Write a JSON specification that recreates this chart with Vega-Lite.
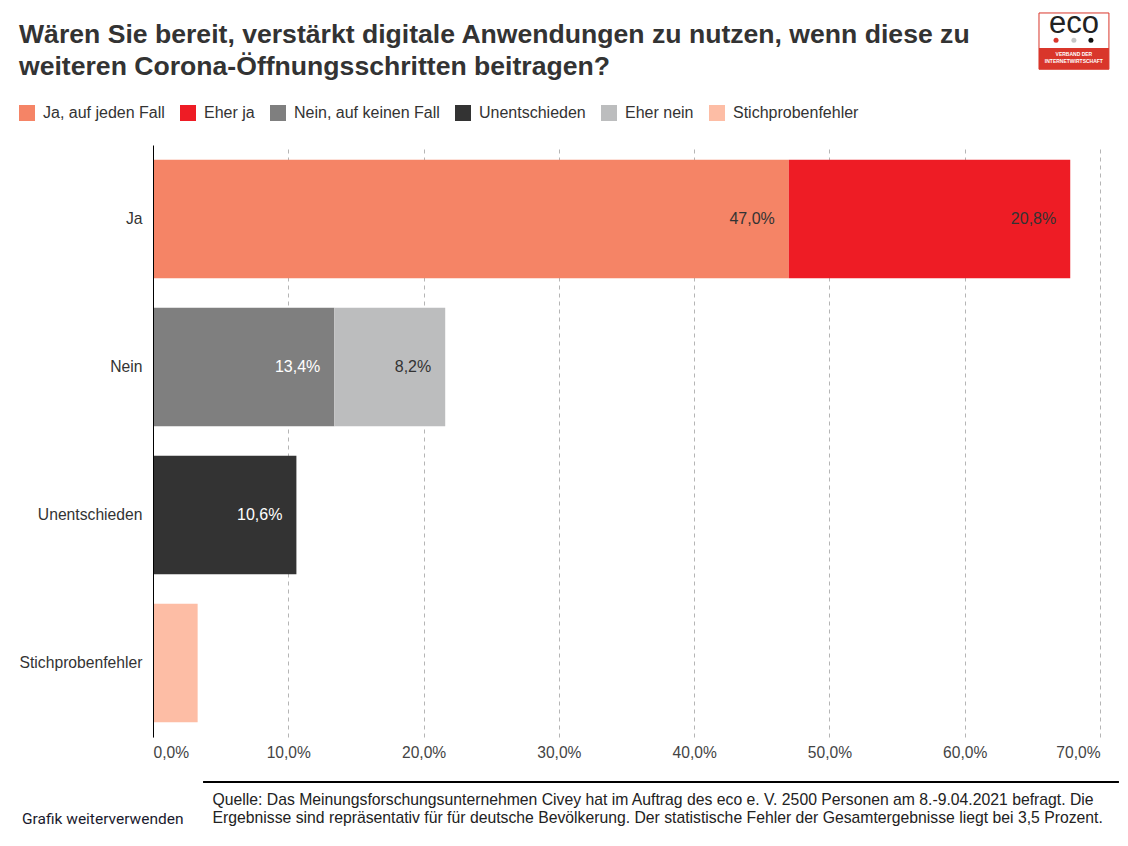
{
  "$schema": "https://vega.github.io/schema/vega-lite/v6.json",
  "autosize": {"type": "none"},
  "padding": {"left": 153, "top": 145, "right": 28, "bottom": 109},
  "width": 947,
  "height": 592,
  "background": "white",
  "view": {"stroke": null},
  "title": {
    "text": ["Wären Sie bereit, verstärkt digitale Anwendungen zu nutzen, wenn diese zu", "weiteren Corona-Öffnungsschritten beitragen?"],
    "anchor": "start",
    "frame": "group",
    "dx": -134,
    "dy": 72,
    "offset": 0,
    "font": "Liberation Sans",
    "fontSize": 26.6,
    "fontWeight": "bold",
    "lineHeight": 32,
    "color": "#333333"
  },
  "data": {
    "values": [
      {"Gruppe": "Ja", "Antwort": "Ja, auf jeden Fall", "Rang": 1, "Wert": 47.0, "Label": "47,0%"},
      {"Gruppe": "Ja", "Antwort": "Eher ja", "Rang": 2, "Wert": 20.8, "Label": "20,8%"},
      {"Gruppe": "Nein", "Antwort": "Nein, auf keinen Fall", "Rang": 1, "Wert": 13.4, "Label": "13,4%"},
      {"Gruppe": "Nein", "Antwort": "Eher nein", "Rang": 2, "Wert": 8.2, "Label": "8,2%"},
      {"Gruppe": "Unentschieden", "Antwort": "Unentschieden", "Rang": 1, "Wert": 10.6, "Label": "10,6%"},
      {"Gruppe": "Stichprobenfehler", "Antwort": "Stichprobenfehler", "Rang": 1, "Wert": 3.3, "Label": ""}
    ]
  },
  "layer": [
    {
      "transform": [
        {"stack": "Wert", "groupby": ["Gruppe"], "sort": [{"field": "Rang", "order": "ascending"}], "as": ["x0", "x1"]}
      ],
      "encoding": {
        "y": {
          "field": "Gruppe",
          "type": "nominal",
          "sort": ["Ja", "Nein", "Unentschieden", "Stichprobenfehler"],
          "scale": {"paddingInner": 0.2, "paddingOuter": 0.1},
          "axis": {
            "title": "Grafik weiterverwenden",
            "titleFont": "Roboto",
            "titleFontSize": 15.5,
            "titleFontWeight": "normal",
            "titleColor": "#1a1a2e",
            "titleAngle": 0,
            "titleAlign": "left",
            "titleBaseline": "alphabetic",
            "titleX": -131.5,
            "titleY": 678,
            "labelFont": "Liberation Sans",
            "labelFontSize": 15.7,
            "labelColor": "#333333",
            "labelPadding": 11,
            "ticks": false,
            "domainColor": "black",
            "domainWidth": 1,
            "grid": false,
            "zindex": 1
          }
        }
      },
      "layer": [
        {
          "mark": {"type": "bar"},
          "encoding": {
            "x": {
              "field": "x0",
              "type": "quantitative",
              "scale": {"domain": [0, 70], "nice": false},
              "axis": {
                "values": [0, 10, 20, 30, 40, 50, 60, 70],
                "labelExpr": "replace(format(datum.value, '.1f'), '.', ',') + '%'",
                "labelFlush": true,
                "labelFont": "Liberation Sans",
                "labelFontSize": 15.6,
                "labelColor": "#444444",
                "labelPadding": 8,
                "ticks": false,
                "domain": false,
                "grid": true,
                "gridColor": "#b5b5b5",
                "gridDash": [4, 4],
                "gridWidth": 1,
                "title": ["Quelle: Das Meinungsforschungsunternehmen Civey hat im Auftrag des eco e. V. 2500 Personen am 8.-9.04.2021 befragt. Die", "Ergebnisse sind repräsentativ für für deutsche Bevölkerung. Der statistische Fehler der Gesamtergebnisse liegt bei 3,5 Prozent."],
                "titleFont": "Liberation Sans",
                "titleFontSize": 15.75,
                "titleFontWeight": "normal",
                "titleColor": "#222222",
                "titleAlign": "left",
                "titleAnchor": "start",
                "titleBaseline": "alphabetic",
                "titleLineHeight": 18,
                "titleX": 59,
                "titleY": 67
              }
            },
            "x2": {"field": "x1"},
            "color": {
              "field": "Antwort",
              "type": "nominal",
              "scale": {
                "domain": ["Ja, auf jeden Fall", "Eher ja", "Nein, auf keinen Fall", "Unentschieden", "Eher nein", "Stichprobenfehler"],
                "range": ["#F58466", "#EE1C25", "#7F7F7F", "#333333", "#BCBDBE", "#FDBDA5"]
              },
              "legend": {
                "title": null,
                "orient": "none",
                "direction": "horizontal",
                "columns": 6,
                "gridAlign": "none",
                "legendX": -134,
                "legendY": -40,
                "symbolType": "square",
                "symbolSize": 256,
                "symbolStrokeWidth": 0,
                "symbolOpacity": 1,
                "labelFont": "Liberation Sans",
                "labelFontSize": 16,
                "labelColor": "#333333",
                "labelOffset": 8,
                "columnPadding": 15,
                "labelLimit": 300
              }
            }
          }
        },
        {
          "mark": {"type": "text", "align": "right", "dx": -14, "font": "Liberation Sans", "fontSize": 16},
          "encoding": {
            "x": {"field": "x1", "type": "quantitative"},
            "text": {"field": "Label", "type": "nominal"},
            "color": {
              "condition": {"test": "datum.Antwort === 'Nein, auf keinen Fall' || datum.Antwort === 'Unentschieden'", "value": "white"},
              "value": "#333333"
            }
          }
        }
      ]
    },
    {
      "data": {"values": [{}]},
      "mark": {"type": "rule", "color": "black", "strokeWidth": 2},
      "encoding": {
        "x": {"datum": 3.7, "type": "quantitative"},
        "x2": {"datum": 71.4},
        "y": {"datum": -7.6, "type": "quantitative", "scale": {"domain": [0, 100], "nice": false, "zero": false}, "axis": null}
      }
    },
    {
      "data": {"values": [{}]},
      "mark": {"type": "rect", "fill": "white", "stroke": "#d9362b", "strokeWidth": 1},
      "encoding": {
        "x": {"datum": 65.49, "type": "quantitative"},
        "x2": {"datum": 70.66},
        "y": {"datum": 122.3, "type": "quantitative", "scale": {"domain": [0, 100], "nice": false, "zero": false}, "axis": null},
        "y2": {"datum": 112.8}
      }
    },
    {
      "data": {"values": [{}]},
      "mark": {"type": "rect", "fill": "#d9362b"},
      "encoding": {
        "x": {"datum": 65.49, "type": "quantitative"},
        "x2": {"datum": 70.66},
        "y": {"datum": 116.4, "type": "quantitative", "scale": {"domain": [0, 100], "nice": false, "zero": false}, "axis": null},
        "y2": {"datum": 112.8}
      }
    },
    {
      "data": {"values": [{"t": "eco"}]},
      "mark": {"type": "text", "font": "Liberation Sans", "fontSize": 31, "color": "#222222", "align": "center", "baseline": "alphabetic"},
      "encoding": {
        "x": {"datum": 68.07, "type": "quantitative"},
        "y": {"datum": 118.9, "type": "quantitative", "scale": {"domain": [0, 100], "nice": false, "zero": false}, "axis": null},
        "text": {"field": "t"}
      }
    },
    {
      "data": {"values": [{"t": "VERBAND DER"}]},
      "mark": {"type": "text", "font": "Liberation Sans", "fontSize": 5, "fontWeight": "bold", "color": "white", "align": "center", "baseline": "alphabetic"},
      "encoding": {
        "x": {"datum": 68.07, "type": "quantitative"},
        "y": {"datum": 115.0, "type": "quantitative", "scale": {"domain": [0, 100], "nice": false, "zero": false}, "axis": null},
        "text": {"field": "t"}
      }
    },
    {
      "data": {"values": [{"t": "INTERNETWIRTSCHAFT"}]},
      "mark": {"type": "text", "font": "Liberation Sans", "fontSize": 5, "fontWeight": "bold", "color": "white", "align": "center", "baseline": "alphabetic"},
      "encoding": {
        "x": {"datum": 68.07, "type": "quantitative"},
        "y": {"datum": 113.85, "type": "quantitative", "scale": {"domain": [0, 100], "nice": false, "zero": false}, "axis": null},
        "text": {"field": "t"}
      }
    },
    {
      "data": {"values": [{}]},
      "mark": {"type": "point", "shape": "circle", "filled": true, "size": 25, "opacity": 1, "color": "#d9362b"},
      "encoding": {
        "x": {"datum": 66.75, "type": "quantitative"},
        "y": {"datum": 117.7, "type": "quantitative", "scale": {"domain": [0, 100], "nice": false, "zero": false}, "axis": null}
      }
    },
    {
      "data": {"values": [{}]},
      "mark": {"type": "point", "shape": "circle", "filled": true, "size": 25, "opacity": 1, "color": "#c4c6c6"},
      "encoding": {
        "x": {"datum": 68.07, "type": "quantitative"},
        "y": {"datum": 117.7, "type": "quantitative", "scale": {"domain": [0, 100], "nice": false, "zero": false}, "axis": null}
      }
    },
    {
      "data": {"values": [{}]},
      "mark": {"type": "point", "shape": "circle", "filled": true, "size": 25, "opacity": 1, "color": "#111111"},
      "encoding": {
        "x": {"datum": 69.33, "type": "quantitative"},
        "y": {"datum": 117.7, "type": "quantitative", "scale": {"domain": [0, 100], "nice": false, "zero": false}, "axis": null}
      }
    }
  ],
  "resolve": {"scale": {"y": "independent"}, "axis": {"y": "independent"}}
}
